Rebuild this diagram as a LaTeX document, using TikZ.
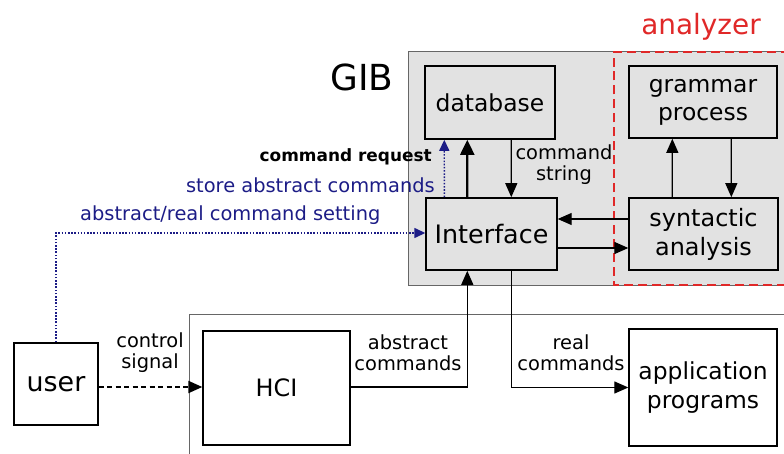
\documentclass[tikz,border=0pt]{standalone}
\usepackage{fontspec}
\setmainfont{DejaVu Sans}
\usetikzlibrary{arrows.meta,calc}
\definecolor{navy}{HTML}{1C1C86}
\definecolor{redline}{HTML}{E02828}
\definecolor{panel}{HTML}{E2E2E2}
\tikzset{
  box/.style={draw=black,line width=1.9pt,rectangle,align=center,inner sep=0pt},
  gbox/.style={box,fill=panel},
  wbox/.style={box,fill=white},
  arr/.style={-{Triangle[length=14pt,width=12pt]},line width=1.2pt},
  thickarr/.style={-{Triangle[length=15pt,width=14pt]},line width=2.2pt},
  bluearr/.style={-{Triangle[length=11pt,width=10pt]},navy,line width=1.4pt,dash pattern=on 1.6pt off 1.6pt},
  lbl/.style={font=\fontsize{19.5}{21}\selectfont,align=center,inner sep=0pt},
}
\begin{document}
\begin{tikzpicture}[x=1bp,y=-1bp]
\useasboundingbox (0,0) rectangle (784,454);
\clip (0,0) rectangle (784,454);
% GIB panel
\filldraw[fill=panel,draw=black!60,line width=0.8pt] (408,51) rectangle (800,285);
% analyzer region
\draw[redline,dashed,dash pattern=on 9pt off 5pt,line width=1.3pt] (800,285) -| (614,52) -- (800,52);
% lower frame
\draw[black!60,line width=1pt] (189,470) |- (800,314);
% labels
\node[font=\fontsize{36}{38}\selectfont,anchor=center] (gib) at (362,77) {GIB};
\node[font=\fontsize{28}{30}\selectfont,text=redline,anchor=center] (anl) at (701,27) {analyzer};
% nodes
\node[gbox,minimum width=130,minimum height=73,font=\fontsize{23.5}{26}\selectfont] (db) at (490,102.5) {database};
\node[gbox,minimum width=131,minimum height=72,font=\fontsize{25.5}{28}\selectfont] (iface) at (491.5,234) {Interface};
\node[gbox,minimum width=148,minimum height=72,font=\fontsize{23.5}{28}\selectfont] (gp) at (703,102) {grammar\\process};
\node[gbox,minimum width=149,minimum height=72,font=\fontsize{24}{29}\selectfont] (syn) at (703.5,234) {syntactic\\analysis};
\node[wbox,minimum width=84,minimum height=82,font=\fontsize{27}{29}\selectfont] (user) at (56,384) {user};
\node[wbox,minimum width=147,minimum height=114,font=\fontsize{24}{26}\selectfont] (hci) at (276.5,388) {HCI};
\node[wbox,minimum width=148,minimum height=117,font=\fontsize{23.5}{29}\selectfont] (app) at (703,387.5) {application\\programs};
% connectors inside GIB
\draw[thickarr] ($(iface.north west)+(42,0)$) -- ($(db.south west)+(43,0)$);
\draw[arr] ($(db.south west)+(87,0)$) -- ($(iface.north west)+(86,0)$);
\draw[bluearr] ($(iface.north west)+(19,0)$) -- ($(db.south west)+(20,0)$);
\draw[arr] ($(syn.north west)+(44,0)$) -- ($(gp.south west)+(44,0)$);
\draw[arr] ($(gp.south west)+(103,0)$) -- ($(syn.north west)+(103,0)$);
\draw[arr] ($(syn.west)+(0,-15)$) -- ($(iface.east)+(0,-15)$);
\draw[arr] ($(iface.east)+(0,14)$) -- ($(syn.west)+(0,14)$);
% lower connectors
\draw[arr,dash pattern=on 5pt off 3.5pt,line width=2pt] (user.east |- 0,387) -- (hci.west |- 0,387);
\draw[arr] (hci.east |- 0,387) -| ($(iface.south west)+(42,0)$);
\draw[arr] ($(iface.south west)+(86,0)$) |- (app.west);
\draw[bluearr] (user.north) |- ($(iface.west)+(0,-1)$);
% connector labels
\node[lbl,font=\bfseries\fontsize{17}{18}\selectfont,anchor=east] (creq) at (432,157) {command request};
\node[lbl,text=navy,anchor=east] (store) at (435,185) {store abstract commands};
\node[lbl,text=navy,anchor=west] (setting) at (80,215) {abstract/real command setting};
\node[lbl] (cstr) at (564,165) {command\\string};
\node[lbl] (ctrl) at (150,353) {control\\signal};
\node[lbl] (absc) at (408,353) {abstract\\commands};
\node[lbl] (realc) at (571,353) {real\\commands};
\end{tikzpicture}
\end{document}
